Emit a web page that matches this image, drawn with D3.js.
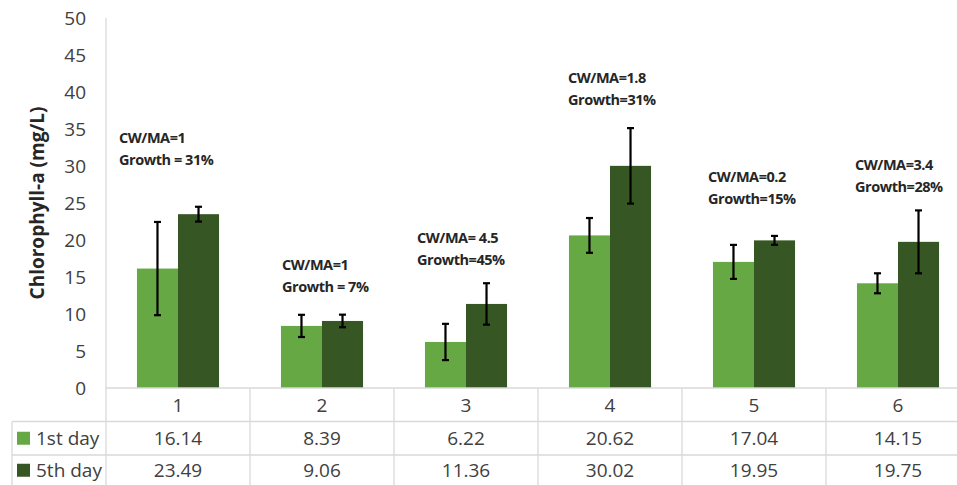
<!DOCTYPE html>
<html>
<head>
<meta charset="utf-8">
<script src="https://cdn.jsdelivr.net/npm/d3@7/dist/d3.min.js"></script>
<style>
  html, body { margin: 0; padding: 0; background: #fff; }
  svg { display: block; }
  text { font-family: "Open Sans", "Liberation Sans", sans-serif; }
</style>
</head>
<body>
<svg id="chart" width="957" height="485"></svg>
<script>
// Treatments and chlorophyll-a readings
const categories = ["1", "2", "3", "4", "5", "6"];
const seriesNames = ["1st day", "5th day"];
const day1 = [16.14, 8.39, 6.22, 20.62, 17.04, 14.15];
const day5 = [23.49, 9.06, 11.36, 30.02, 19.95, 19.75];
const day1Err = [6.3, 1.5, 2.45, 2.35, 2.3, 1.35];
const day5Err = [1.0, 0.85, 2.8, 5.1, 0.6, 4.25];
const ratioLabels = ["CW/MA=1", "CW/MA=1", "CW/MA= 4.5", "CW/MA=1.8", "CW/MA=0.2", "CW/MA=3.4"];
const growthLabels = ["Growth = 31%", "Growth = 7%", "Growth=45%", "Growth=31%", "Growth=15%", "Growth=28%"];
const yTicks = [0, 5, 10, 15, 20, 25, 30, 35, 40, 45, 50];

// Note placement (value-axis height of the first line, offset from the column's left edge)
const notePos = [
  { y: 33.8, dx: 13 }, { y: 16.6, dx: 32 }, { y: 20.3, dx: 23 },
  { y: 41.9, dx: 30 }, { y: 28.6, dx: 26 }, { y: 30.1, dx: 29 }
];

const colors = ["#66a844", "#365723"];
const gridColor = "#d9d9d9";
const textColor = "#404040";

const svg = d3.select("#chart");

const plotLeft = 106, plotRight = 970, plotTop = 18, plotBottom = 388;
const rowH = 33.5;
const rowLines = [plotBottom, plotBottom + rowH, plotBottom + 2 * rowH, plotBottom + 3 * rowH];

const y = d3.scaleLinear().domain([0, 50]).range([plotBottom, plotTop]);
const x = d3.scaleBand().domain(categories).range([plotLeft, plotRight])
  .paddingInner(0.43).paddingOuter(0.215);
const xs = d3.scaleBand().domain(seriesNames).range([0, x.bandwidth()]);
const step = x.step();
const colStart = c => x(c) - x.paddingOuter() * step;

// value axis
const yAxis = d3.axisLeft(y).tickValues(yTicks).tickSize(0).tickPadding(20);
const gy = svg.append("g").attr("transform", `translate(${plotLeft},0)`).call(yAxis);
gy.select(".domain").remove();
gy.selectAll("text").attr("fill", textColor).style("font-size", "19px")
  .attr("dy", "0.36em");

svg.append("text")
  .attr("transform", `translate(44,${(plotTop + plotBottom) / 2}) rotate(-90)`)
  .attr("text-anchor", "middle")
  .style("font-size", "19px").style("font-weight", "700")
  .attr("fill", "#262626")
  .text("Chlorophyll-a (mg/L)");

// bars
const rows = categories.map((c, i) => ({ c, vals: [day1[i], day5[i]], errs: [day1Err[i], day5Err[i]] }));
const groups = svg.append("g").selectAll("g").data(rows).join("g")
  .attr("transform", d => `translate(${x(d.c)},0)`);

groups.selectAll("rect").data(d => d.vals.map((v, k) => ({ v, k })))
  .join("rect")
  .attr("x", d => xs(seriesNames[d.k]))
  .attr("y", d => y(d.v))
  .attr("width", xs.bandwidth())
  .attr("height", d => y(0) - y(d.v))
  .attr("fill", d => colors[d.k]);

// error bars
const capW = 3.5;
const eb = groups.selectAll("g.err").data(d => d.vals.map((v, k) => ({ v, e: d.errs[k], k })))
  .join("g").attr("class", "err")
  .attr("stroke", "#000").attr("stroke-width", 2.2).attr("fill", "none");
eb.append("line")
  .attr("x1", d => xs(seriesNames[d.k]) + xs.bandwidth() / 2)
  .attr("x2", d => xs(seriesNames[d.k]) + xs.bandwidth() / 2)
  .attr("y1", d => y(d.v + d.e)).attr("y2", d => y(d.v - d.e));
[1, -1].forEach(s => {
  eb.append("line")
    .attr("x1", d => xs(seriesNames[d.k]) + xs.bandwidth() / 2 - capW)
    .attr("x2", d => xs(seriesNames[d.k]) + xs.bandwidth() / 2 + capW)
    .attr("y1", d => y(d.v + s * d.e)).attr("y2", d => y(d.v + s * d.e));
});

// notes above each pair
categories.forEach((c, i) => {
  const x0 = colStart(c) + notePos[i].dx;
  const t = svg.append("text")
    .attr("x", x0)
    .attr("y", y(notePos[i].y))
    .attr("fill", "#262626")
    .style("font-size", "14.5px").style("font-weight", "700")
    .style("letter-spacing", "-0.45px");
  t.append("tspan").attr("x", x0).attr("dy", "0.36em").text(ratioLabels[i]);
  t.append("tspan").attr("x", x0).attr("dy", "22px").text(growthLabels[i]);
});

// data table grid
const lines = svg.append("g").attr("stroke", gridColor).attr("stroke-width", 1.3);
lines.append("line").attr("x1", plotLeft).attr("x2", plotLeft).attr("y1", plotTop).attr("y2", rowLines[3]);
lines.append("line").attr("x1", plotLeft).attr("x2", plotRight).attr("y1", rowLines[0]).attr("y2", rowLines[0]);
[1, 2, 3].forEach(r => {
  lines.append("line").attr("x1", 12).attr("x2", plotRight).attr("y1", rowLines[r]).attr("y2", rowLines[r]);
});
lines.append("line").attr("x1", 12).attr("x2", 12).attr("y1", rowLines[1]).attr("y2", rowLines[3]);
categories.slice(1).forEach(c => {
  lines.append("line").attr("x1", colStart(c)).attr("x2", colStart(c))
    .attr("y1", rowLines[0]).attr("y2", rowLines[3]);
});

// category labels
svg.append("g").selectAll("text").data(categories).join("text")
  .attr("x", c => x(c) + x.bandwidth() / 2)
  .attr("y", (rowLines[0] + rowLines[1]) / 2)
  .attr("dy", "0.36em")
  .attr("text-anchor", "middle").attr("fill", textColor).style("font-size", "19px")
  .text(c => c);

// series rows
[day1, day5].forEach((vals, k) => {
  const cy = (rowLines[k + 1] + rowLines[k + 2]) / 2 - k * 1.5;
  svg.append("rect").attr("x", 17).attr("y", cy - 6.5).attr("width", 13).attr("height", 13)
    .attr("fill", colors[k]);
  svg.append("text").attr("x", 36).attr("y", cy).attr("dy", "0.36em")
    .attr("fill", textColor).style("font-size", "19px").text(seriesNames[k]);
  svg.append("g").selectAll("text").data(vals).join("text")
    .attr("x", (v, i) => x(categories[i]) + x.bandwidth() / 2)
    .attr("y", cy).attr("dy", "0.36em")
    .attr("text-anchor", "middle").attr("fill", textColor).style("font-size", "19px")
    .text(v => v.toFixed(2));
});
</script>
</body>
</html>
